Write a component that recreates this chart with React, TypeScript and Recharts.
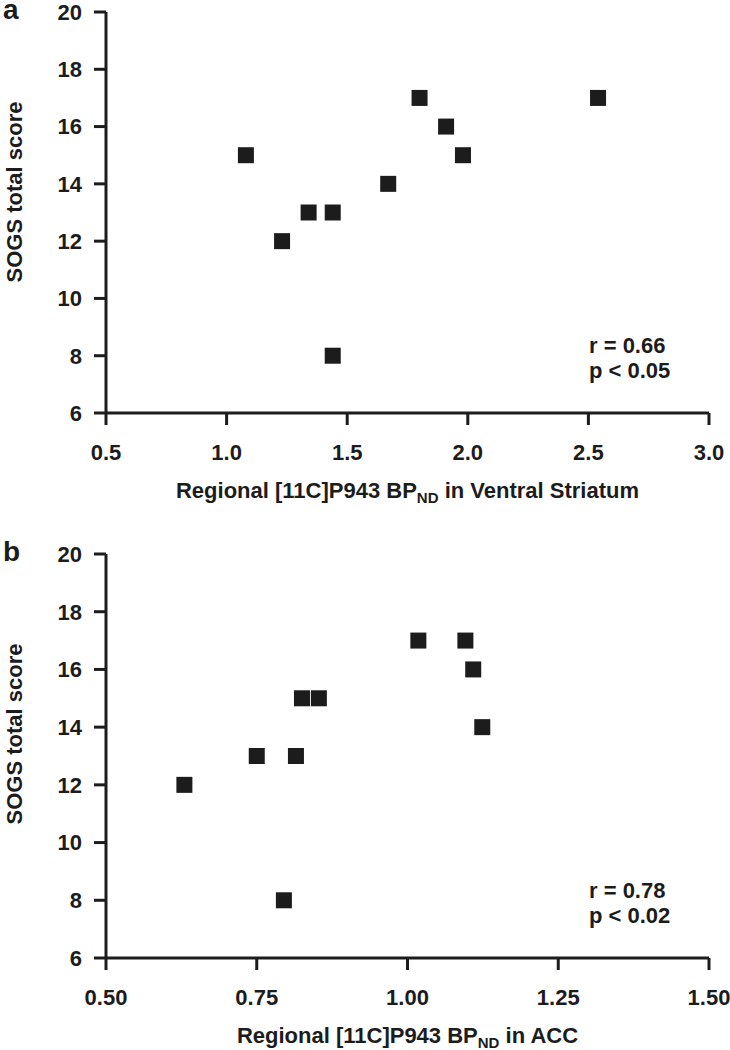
import { Label, Scatter, ScatterChart, XAxis, YAxis } from "recharts";

const ventralX = [1.08, 1.23, 1.34, 1.44, 1.44, 1.67, 1.8, 1.91, 1.98, 2.54];
const ventralY = [15, 12, 13, 13, 8, 14, 17, 16, 15, 17];
const accX = [0.63, 0.75, 0.815, 0.795, 0.825, 0.853, 1.018, 1.096, 1.109, 1.124];
const accY = [12, 13, 13, 8, 15, 15, 17, 17, 16, 14];

const ventralTicks = [0.5, 1.0, 1.5, 2.0, 2.5, 3.0];
const accTicks = [0.5, 0.75, 1.0, 1.25, 1.5];
const scoreTicks = [6, 8, 10, 12, 14, 16, 18, 20];

const ink = "#1c1c1c";
const font = "'Liberation Sans', Arial, sans-serif";

function Square(props: any) {
  const { cx, cy } = props;
  if (cx == null || cy == null) return null;
  return <rect x={cx - 8} y={cy - 8} width={16} height={16} fill={ink} />;
}

function YTitle(props: any) {
  const vb = props.viewBox || { x: 0, y: 0, height: 0 };
  const cx = 22;
  const cy = vb.y + 180;
  return (
    <text
      x={cx}
      y={cy}
      transform={`rotate(-90, ${cx}, ${cy})`}
      textAnchor="middle"
      fontFamily={font}
      fontWeight="bold"
      fontSize={22}
      fill={ink}
    >
      SOGS total score
    </text>
  );
}

function xTitle(region: string) {
  return function XTitle(props: any) {
    const vb = props.viewBox || { x: 0, y: 0, width: 0 };
    return (
      <text
        x={vb.x + vb.width / 2}
        y={vb.y + 85}
        textAnchor="middle"
        fontFamily={font}
        fontWeight="bold"
        fontSize={22}
        fill={ink}
      >
        Regional [11C]P943 BP
        <tspan fontSize={15} dy={5}>
          ND
        </tspan>
        <tspan dy={-5}>{` in ${region}`}</tspan>
      </text>
    );
  };
}

interface PanelProps {
  letter: string;
  xs: number[];
  ys: number[];
  ticks: number[];
  digits: number;
  region: string;
  stats: [string, string];
  top: number;
  axisHeight: number;
}

function Panel({ letter, xs, ys, ticks, digits, region, stats, top, axisHeight }: PanelProps) {
  const data = xs.map((x, i) => ({ x, y: ys[i] }));
  const axisY = 525 - axisHeight;
  const tickStyle = { fill: ink, fontSize: 22, fontWeight: "bold", fontFamily: font };
  const lineStyle = { stroke: ink, strokeWidth: 3 };
  return (
    <div style={{ position: "relative", width: 730, height: 525 }}>
      <ScatterChart
        width={730}
        height={525}
        margin={{ top, right: 21, bottom: 0, left: 0 }}
      >
        <XAxis
          type="number"
          dataKey="x"
          domain={[ticks[0], ticks[ticks.length - 1]]}
          ticks={ticks}
          tickFormatter={(v: number) => v.toFixed(digits)}
          height={axisHeight}
          tickSize={12}
          tickMargin={19}
          axisLine={lineStyle}
          tickLine={lineStyle}
          tick={tickStyle}
          interval={0}
        >
          <Label content={xTitle(region)} />
        </XAxis>
        <YAxis
          type="number"
          dataKey="y"
          domain={[6, 20]}
          ticks={scoreTicks}
          width={106}
          tickSize={12}
          tickMargin={12}
          axisLine={lineStyle}
          tickLine={lineStyle}
          tick={tickStyle}
          interval={0}
        >
          <Label content={<YTitle />} />
        </YAxis>
        <Scatter data={data} shape={<Square />} isAnimationActive={false} />
      </ScatterChart>
      <svg
        width={730}
        height={525}
        style={{ position: "absolute", left: 0, top: 0, pointerEvents: "none" }}
      >
        <text x={3} y={top + 7} fontFamily={font} fontWeight="bold" fontSize={28} fill={ink}>
          {letter}
        </text>
        <text x={589} y={axisY - 60} fontFamily={font} fontWeight="bold" fontSize={22} fill={ink}>
          {stats[0]}
        </text>
        <text x={589} y={axisY - 35} fontFamily={font} fontWeight="bold" fontSize={22} fill={ink}>
          {stats[1]}
        </text>
      </svg>
    </div>
  );
}

export default function App() {
  return (
    <div
      style={{
        position: "absolute",
        left: 0,
        top: 0,
        width: 730,
        height: 1050,
        background: "#ffffff",
      }}
    >
      <Panel
        letter="a"
        xs={ventralX}
        ys={ventralY}
        ticks={ventralTicks}
        digits={1}
        region="Ventral Striatum"
        stats={["r = 0.66", "p < 0.05"]}
        top={12}
        axisHeight={112}
      />
      <Panel
        letter="b"
        xs={accX}
        ys={accY}
        ticks={accTicks}
        digits={2}
        region="ACC"
        stats={["r = 0.78", "p < 0.02"]}
        top={29}
        axisHeight={92}
      />
    </div>
  );
}
